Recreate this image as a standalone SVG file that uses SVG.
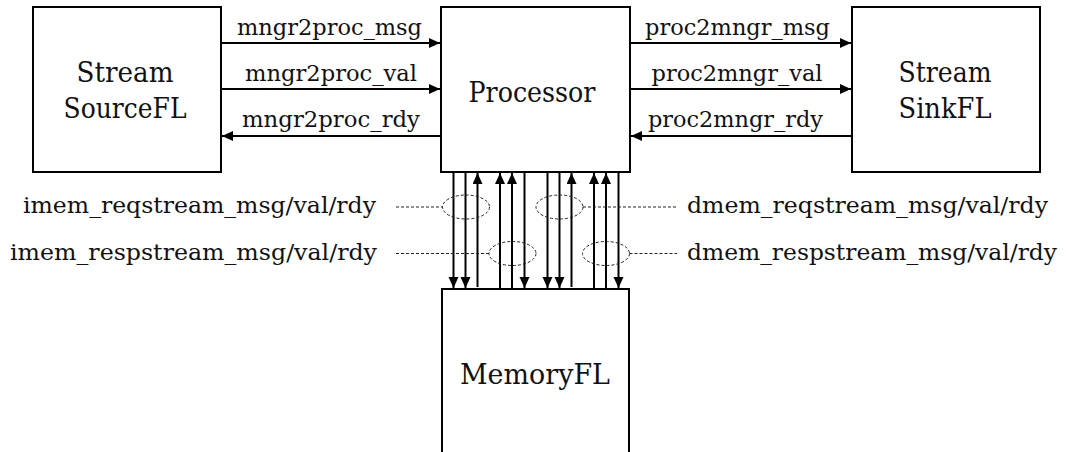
<svg xmlns="http://www.w3.org/2000/svg" width="1066" height="452" viewBox="0 0 1066 452">
<style>
.box{fill:#fff;stroke:#000;stroke-width:2}
text{font-family:"DejaVu Serif",serif;fill:#111}
.bl{font-size:28px;text-anchor:middle}
.el{font-size:23px;text-anchor:middle}
.sl{font-size:23px}
.w{stroke:#000;stroke-width:2;fill:none;marker-end:url(#ah)}
.d{stroke:#222;stroke-width:1;fill:none;stroke-dasharray:3 2}
</style>
<defs>
<marker id="ah" markerUnits="userSpaceOnUse" markerWidth="12" markerHeight="11" refX="11" refY="5" orient="auto">
<path d="M0,0 L11,5 L0,10 z" fill="#000"/>
</marker>
</defs>
<rect width="1066" height="452" fill="#fff"/>
<g id="source">
<rect class="box" x="33" y="7" width="188" height="165"/>
<text class="bl" x="125" y="82" textLength="97" lengthAdjust="spacingAndGlyphs">Stream</text>
<text class="bl" x="125" y="118" textLength="123" lengthAdjust="spacingAndGlyphs">SourceFL</text>
</g>
<g id="processor">
<rect class="box" x="441" y="7" width="189" height="165"/>
<text class="bl" x="532" y="102" textLength="127" lengthAdjust="spacingAndGlyphs">Processor</text>
</g>
<g id="sink">
<rect class="box" x="852" y="7" width="188" height="165"/>
<text class="bl" x="945" y="82" textLength="93" lengthAdjust="spacingAndGlyphs">Stream</text>
<text class="bl" x="945" y="118" textLength="93" lengthAdjust="spacingAndGlyphs">SinkFL</text>
</g>
<g id="memory">
<rect class="box" x="442" y="289" width="187" height="180"/>
<text class="bl" x="535" y="384" textLength="150" lengthAdjust="spacingAndGlyphs">MemoryFL</text>
</g>
<g id="connectors">
<line class="w" x1="222" y1="43" x2="440" y2="43"/>
<line class="w" x1="222" y1="89" x2="440" y2="89"/>
<line class="w" x1="440" y1="136" x2="222" y2="136"/>
<line class="w" x1="631" y1="43" x2="851" y2="43"/>
<line class="w" x1="631" y1="89" x2="851" y2="89"/>
<line class="w" x1="851" y1="136" x2="631" y2="136"/>
<line class="w" x1="453.5" y1="173" x2="453.5" y2="288"/>
<line class="w" x1="465.5" y1="173" x2="465.5" y2="288"/>
<line class="w" x1="477.5" y1="287" x2="477.5" y2="173"/>
<line class="w" x1="500" y1="288" x2="500" y2="173"/>
<line class="w" x1="512" y1="288" x2="512" y2="173"/>
<line class="w" x1="524.5" y1="173" x2="524.5" y2="288"/>
<line class="w" x1="547.5" y1="173" x2="547.5" y2="288"/>
<line class="w" x1="559.5" y1="173" x2="559.5" y2="288"/>
<line class="w" x1="571.5" y1="287" x2="571.5" y2="173"/>
<line class="w" x1="594" y1="288" x2="594" y2="173"/>
<line class="w" x1="606" y1="288" x2="606" y2="173"/>
<line class="w" x1="618.5" y1="173" x2="618.5" y2="288"/>
<ellipse class="d" cx="466" cy="207" rx="23.5" ry="12"/>
<ellipse class="d" cx="512.5" cy="253.5" rx="23.5" ry="12"/>
<ellipse class="d" cx="559.5" cy="207" rx="23.5" ry="12"/>
<ellipse class="d" cx="606" cy="253.5" rx="23.5" ry="12"/>
<line class="d" x1="396" y1="207" x2="442.5" y2="207"/>
<line class="d" x1="396" y1="253.5" x2="489" y2="253.5"/>
<line class="d" x1="583" y1="207" x2="677" y2="207"/>
<line class="d" x1="629.5" y1="253.5" x2="677" y2="253.5"/>
</g>
<g id="labels">
<text class="el" x="329.5" y="35" textLength="185" lengthAdjust="spacingAndGlyphs">mngr2proc_msg</text>
<text class="el" x="331" y="81" textLength="172" lengthAdjust="spacingAndGlyphs">mngr2proc_val</text>
<text class="el" x="331" y="127" textLength="178" lengthAdjust="spacingAndGlyphs">mngr2proc_rdy</text>
<text class="el" x="737.5" y="35" textLength="185" lengthAdjust="spacingAndGlyphs">proc2mngr_msg</text>
<text class="el" x="737" y="81" textLength="171" lengthAdjust="spacingAndGlyphs">proc2mngr_val</text>
<text class="el" x="735.5" y="127" textLength="175" lengthAdjust="spacingAndGlyphs">proc2mngr_rdy</text>
<text class="sl" x="23" y="213" textLength="353" lengthAdjust="spacingAndGlyphs">imem_reqstream_msg/val/rdy</text>
<text class="sl" x="10" y="260" textLength="367" lengthAdjust="spacingAndGlyphs">imem_respstream_msg/val/rdy</text>
<text class="sl" x="687" y="213" textLength="361" lengthAdjust="spacingAndGlyphs">dmem_reqstream_msg/val/rdy</text>
<text class="sl" x="687" y="260" textLength="370" lengthAdjust="spacingAndGlyphs">dmem_respstream_msg/val/rdy</text>
</g>
</svg>
